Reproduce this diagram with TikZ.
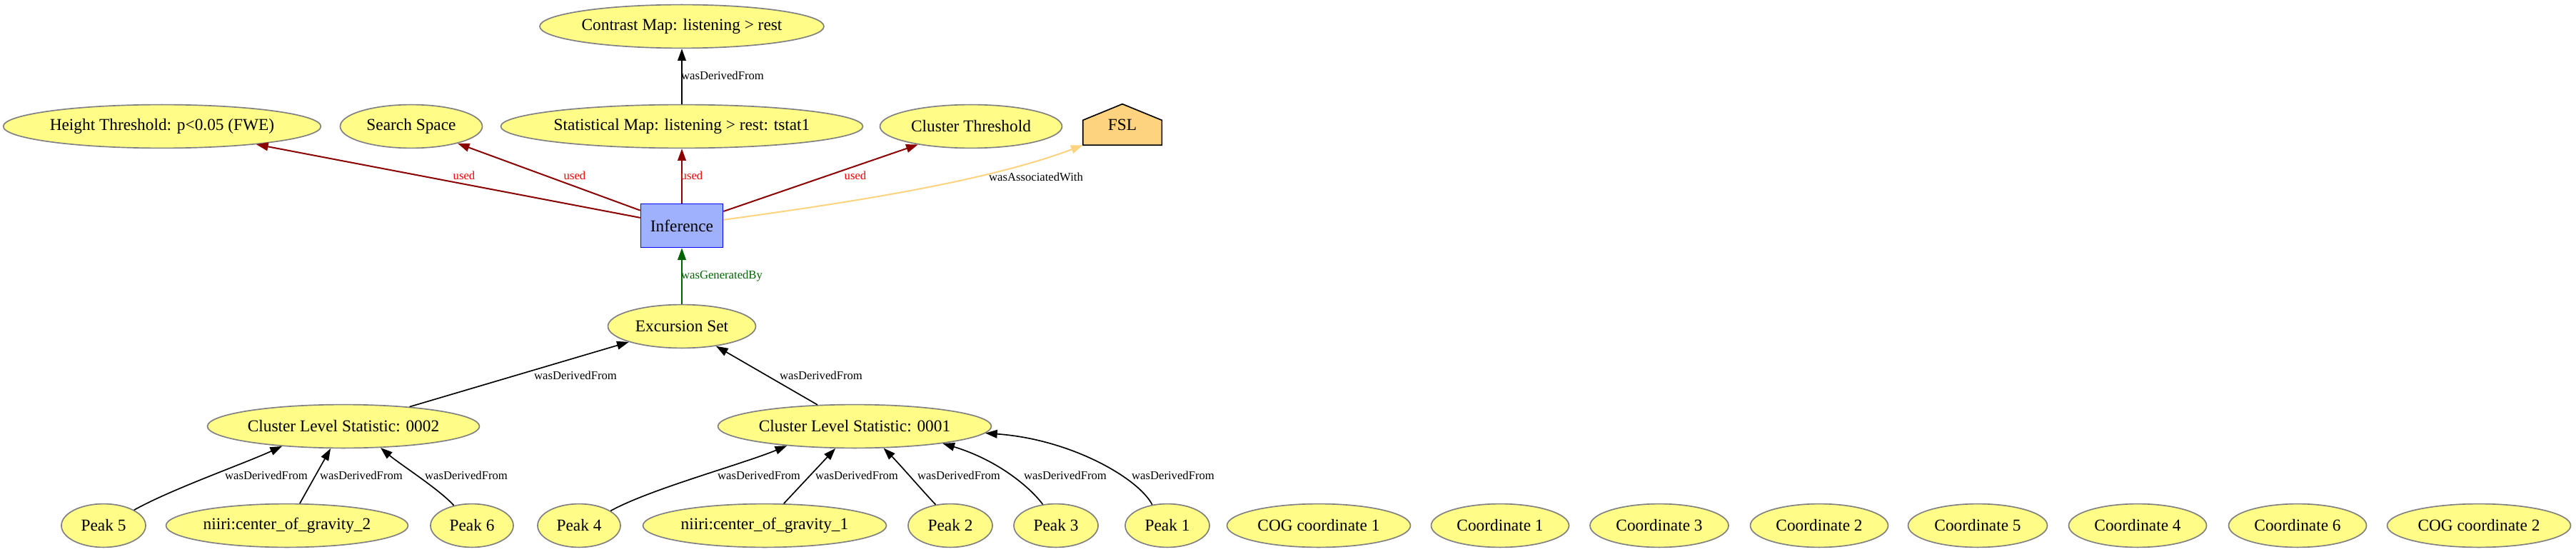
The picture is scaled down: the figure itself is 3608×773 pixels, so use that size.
\documentclass[tikz,border=0pt]{standalone}
\usepackage{fontspec}
\setmainfont{Liberation Serif}
\usetikzlibrary{arrows.meta,shapes.geometric,backgrounds}
\definecolor{entfill}{HTML}{FFFC87}
\definecolor{entline}{HTML}{808080}
\definecolor{actfill}{HTML}{9FB1FC}
\definecolor{actline}{HTML}{0000FF}
\definecolor{agfill}{HTML}{FED37F}
\definecolor{usedc}{HTML}{8B0000}
\definecolor{usedl}{HTML}{FF0000}
\definecolor{genc}{HTML}{006400}
\begin{document}
\begin{tikzpicture}[x=0.6pt,y=-0.6pt,
  ent/.style={ellipse,draw=entline,fill=entfill,line width=1pt,inner sep=0pt,
    minimum height=36.5pt,minimum width=#1*0.6pt,font=\fontsize{14pt}{16pt}\selectfont},
  act/.style={rectangle,draw=actline,fill=actfill,line width=1pt,inner sep=0pt,
    minimum width=69pt,minimum height=36.6pt,font=\fontsize{14pt}{16pt}\selectfont},
  agent/.style={rectangle,inner sep=0pt,minimum width=66pt,minimum height=33pt,
    font=\fontsize{14pt}{16pt}\selectfont},
  arr/.style={-{Triangle[length=10pt,width=7pt]},line width=1pt},
  derived/.style={arr,draw=black},
  usededge/.style={arr,draw=usedc,line width=1.2pt},
  genedge/.style={arr,draw=genc},
  assocedge/.style={arr,draw=agfill,line width=1.2pt},
  lab/.style={font=\fontsize{10pt}{12pt}\selectfont,inner sep=0pt},
  ]
\useasboundingbox (0,0) rectangle (3608,773);

% top
\node[ent=398] (contrast) at (955,37) {Contrast Map: listening > rest};
\node[ent=442] (height) at (227,177) {Height Threshold: p<0.05 (FWE)};
\node[ent=199] (search) at (576,177) {Search Space};
\node[ent=494] (stat) at (955,177) {Statistical Map: listening > rest: tstat1};
\node[ent=255] (cthr) at (1360,177) {Cluster Threshold};
\node[agent] (fsl) at (1572,174.5) {FSL};
\begin{scope}[on background layer]
\fill[white] (0,0) rectangle (3608,773);
\draw[fill=agfill,line width=1pt,line join=miter] ([yshift=-0.6pt]fsl.south west) -- ([yshift=-0.6pt]fsl.south east)
  -- ([yshift=20.4pt]fsl.south east) -- ([yshift=0.6pt]fsl.north) -- ([yshift=20.4pt]fsl.south west) -- cycle;
\end{scope}
\node[act] (inf) at (955,316) {Inference};
\node[ent=207] (exc) at (955,457) {Excursion Set};
\node[ent=381] (c2) at (481,597) {Cluster Level Statistic: 0002};
\node[ent=383] (c1) at (1197,597) {Cluster Level Statistic: 0001};

% bottom row
\node[ent=118] (p5) at (145,736) {Peak 5};
\node[ent=339] (cog2) at (402,736) {niiri:center\_of\_gravity\_2};
\node[ent=116] (p6) at (661,736) {Peak 6};
\node[ent=116] (p4) at (811,736) {Peak 4};
\node[ent=341] (cog1) at (1071,736) {niiri:center\_of\_gravity\_1};
\node[ent=118] (p2) at (1331,736) {Peak 2};
\node[ent=118] (p3) at (1479,736) {Peak 3};
\node[ent=118] (p1) at (1635,736) {Peak 1};
\node[ent=257] (cogc1) at (1847,736) {COG coordinate 1};
\node[ent=193] (co1) at (2101,736) {Coordinate 1};
\node[ent=194] (co3) at (2324,736) {Coordinate 3};
\node[ent=193] (co2) at (2548,736) {Coordinate 2};
\node[ent=195] (co5) at (2770,736) {Coordinate 5};
\node[ent=193] (co4) at (2994,736) {Coordinate 4};
\node[ent=193] (co6) at (3218,736) {Coordinate 6};
\node[ent=257] (cogc2) at (3472,736) {COG coordinate 2};

% edges
\draw[derived] (stat) -- (contrast);
\draw[usededge] (inf) -- (height);
\draw[usededge] (inf) -- (search);
\draw[usededge] (inf) -- (stat);
\draw[usededge] (inf) -- (cthr);
\draw[assocedge] (inf.8) .. controls (1180,285) and (1380,255) .. ([yshift=-0.6pt]fsl.south west);
\draw[genedge] (exc) -- (inf);
\draw[derived] (c2) -- (exc);
\draw[derived] (c1) -- (exc);

\draw[derived] (p5.27) .. controls (240,685) and (340,650) .. (c2.198);
\draw[derived] (cog2.60.5) -- (c2.240.5);
\draw[derived] (p6.132) .. controls (615,685) and (560,650) .. (c2.330);
\draw[derived] (p4.25) .. controls (910,685) and (1040,650) .. (c1.196);
\draw[derived] (cog1.49) -- (c1.229);
\draw[derived] (p2.125) .. controls (1290,685) and (1260,650) .. (c1.323);
\draw[derived] (p3.122) .. controls (1445,685) and (1400,645) .. (c1.349);
\draw[derived] (p1.126) .. controls (1595,670) and (1500,615) .. (c1.357.5);

% labels
\node[lab] (lcontrast) at (1012,106) {wasDerivedFrom};
\node[lab,text=usedl] (lu1) at (650,246) {used};
\node[lab,text=usedl] (lu2) at (805,246) {used};
\node[lab,text=usedl] (lu3) at (969,246) {used};
\node[lab,text=usedl] (lu4) at (1198,246) {used};
\node[lab] (lassoc) at (1451,248) {wasAssociatedWith};
\node[lab,text=genc] (lgen) at (1011,387) {wasGeneratedBy};
\node[lab] (lex2) at (806,526) {wasDerivedFrom};
\node[lab] (lex1) at (1150,526) {wasDerivedFrom};
\node[lab] (lp5) at (373,666) {wasDerivedFrom};
\node[lab] (lcog2) at (506,666) {wasDerivedFrom};
\node[lab] (lp6) at (653,666) {wasDerivedFrom};
\node[lab] (lp4) at (1063,666) {wasDerivedFrom};
\node[lab] (lcog1) at (1200,666) {wasDerivedFrom};
\node[lab] (lp2) at (1343,666) {wasDerivedFrom};
\node[lab] (lp3) at (1492,666) {wasDerivedFrom};
\node[lab] (lp1) at (1643,666) {wasDerivedFrom};
\end{tikzpicture}
\end{document}
